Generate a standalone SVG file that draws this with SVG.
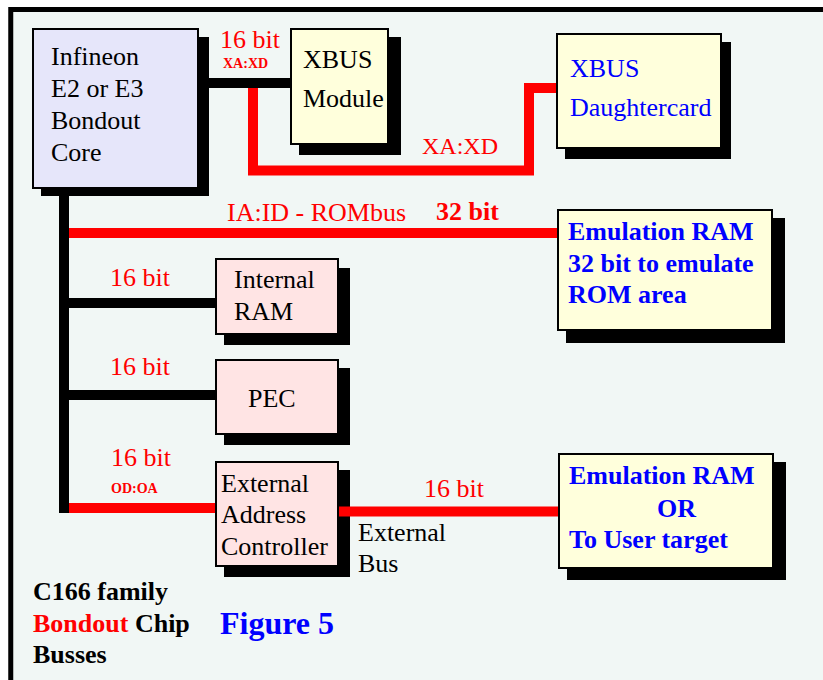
<svg xmlns="http://www.w3.org/2000/svg" width="823" height="680" viewBox="0 0 823 680">
<style>
.t{font-size:26px}
.b{font-weight:bold}
.r{fill:#ff0000}
.bl{fill:#0000ff}
.sh{fill:#000}
.box{stroke:#000;stroke-width:2}
.lav{fill:#e6e6fa}
.yel{fill:#ffffdc}
.pink{fill:#ffe4e4}
.wk{stroke:#000;stroke-width:10;fill:none}
.wr{stroke:#ff0000;stroke-width:10;fill:none;stroke-linejoin:miter}
</style>
<rect x="0" y="0" width="823" height="680" fill="#fff"/>
<rect x="10.75" y="9.5" width="900" height="800" fill="#f1f7f5" stroke="#000" stroke-width="5"/>
<g font-family="'Liberation Serif', 'Times New Roman', serif" font-size="26">

<g id="core">
<rect class="sh" x="41" y="37" width="168" height="159"/>
<rect class="box lav" x="33" y="29" width="165" height="159"/>
<text x="51" y="65">Infineon</text>
<text x="51" y="97">E2 or E3</text>
<text x="51" y="129">Bondout</text>
<text x="51" y="161">Core</text>
</g>

<g id="xbus-module">
<rect class="sh" x="299" y="37" width="102" height="118"/>
<rect class="box yel" x="291" y="29" width="97" height="115"/>
<text x="303" y="68">XBUS</text>
<text x="303" y="107">Module</text>
</g>

<g id="xbus-daughtercard">
<rect class="sh" x="565" y="42" width="166" height="117"/>
<rect class="box yel" x="557" y="34" width="164" height="114"/>
<text class="bl" x="570" y="77">XBUS</text>
<text class="bl" x="570" y="116">Daughtercard</text>
</g>

<g id="emulation-rom">
<rect class="sh" x="566" y="218" width="219" height="125"/>
<rect class="box yel" x="558" y="210" width="214" height="120"/>
<text class="b bl" x="568" y="240">Emulation RAM</text>
<text class="b bl" x="568" y="272">32 bit to emulate</text>
<text class="b bl" x="568" y="303">ROM area</text>
</g>

<g id="internal-ram">
<rect class="sh" x="224" y="268" width="126" height="77"/>
<rect class="box pink" x="216" y="259" width="122" height="75"/>
<text x="234" y="288">Internal</text>
<text x="234" y="320">RAM</text>
</g>

<g id="pec">
<rect class="sh" x="224" y="368" width="126" height="77"/>
<rect class="box pink" x="216" y="360" width="122" height="74"/>
<text x="248" y="407">PEC</text>
</g>

<g id="ext-addr-ctrl">
<rect class="sh" x="224" y="470" width="126" height="107"/>
<rect class="box pink" x="216" y="462" width="122" height="104"/>
<text x="221" y="492">External</text>
<text x="221" y="523">Address</text>
<text x="221" y="555">Controller</text>
</g>

<g id="emulation-user">
<rect class="sh" x="567" y="462" width="219" height="118"/>
<rect class="box yel" x="559" y="454" width="214" height="114"/>
<text class="b bl" x="569" y="484">Emulation RAM</text>
<text class="b bl" x="657" y="517">OR</text>
<text class="b bl" x="569" y="548">To User target</text>
</g>

<g id="connectors">
<path class="wk" d="M199,83 H290"/>
<path class="wk" d="M64,189 V513"/>
<path class="wk" d="M69,303 H215"/>
<path class="wk" d="M69,395 H215"/>
<path class="wr" d="M69,233 H557"/>
<path class="wr" d="M69,508 H215"/>
<path class="wr" d="M253,88 V170.5 H529 V88 H556"/>
<path class="wr" d="M339,511.5 H558"/>
</g>

<g id="labels">
<text class="r" x="220" y="48">16 bit</text>
<text class="r b" x="223" y="68" font-size="14">XA:XD</text>
<text class="r" x="422" y="154" font-size="24">XA:XD</text>
<text class="r" x="227" y="221">IA:ID - ROMbus</text>
<text class="r b" x="436" y="220">32 bit</text>
<text class="r" x="110" y="286">16 bit</text>
<text class="r" x="110" y="375">16 bit</text>
<text class="r" x="111" y="466">16 bit</text>
<text class="r b" x="111" y="493" font-size="14">OD:OA</text>
<text class="r" x="424" y="497">16 bit</text>
<text x="358" y="541">External</text>
<text x="358" y="572">Bus</text>
<text class="b" x="33" y="600">C166 family</text>
<text class="b" x="33" y="632"><tspan class="r">Bondout</tspan> Chip</text>
<text class="b" x="33" y="663">Busses</text>
<text class="b bl" x="220" y="634" font-size="32">Figure 5</text>
</g>
</g>
</svg>
